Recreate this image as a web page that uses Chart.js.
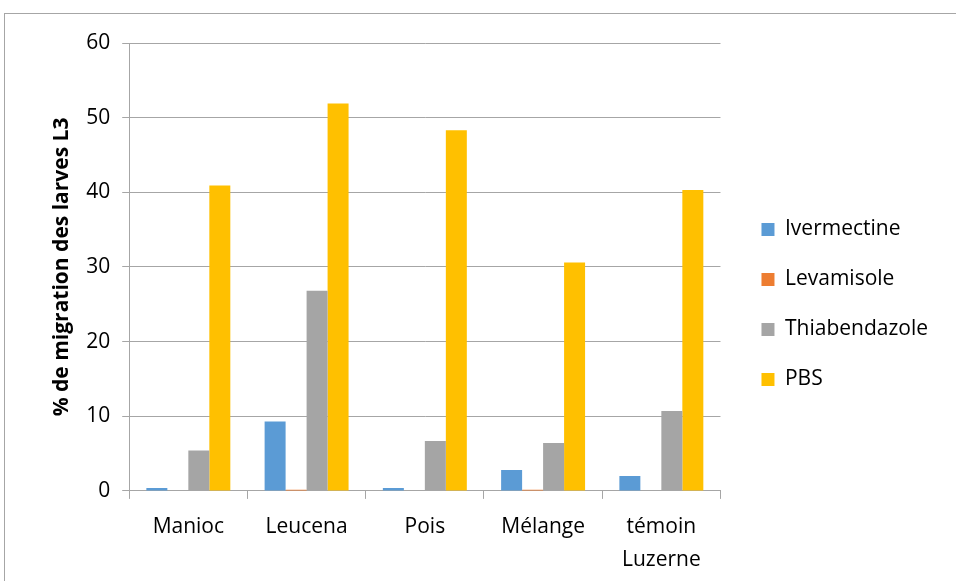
<!DOCTYPE html>
<html>
<head>
<meta charset="utf-8">
<script src="https://cdn.jsdelivr.net/npm/chart.js"></script>
<style>
  body { margin: 0; background: #fff; }
  #wrap { position: relative; width: 956px; height: 581px; }
  #frame { position: absolute; left: 4px; top: 13px; width: 960px; height: 600px;
           border-left: 1px solid #a6a6a6; border-top: 1px solid #a6a6a6; }
  canvas { position: absolute; left: 0; top: 0; }
</style>
</head>
<body>
<div id="wrap">
  <div id="frame"></div>
  <canvas id="myChart" width="956" height="581"></canvas>
</div>
<script>
// data
const categories = ['Manioc', 'Leucena', 'Pois', 'Mélange', ['témoin', 'Luzerne']];
const ivermectine = [0.4, 9.3, 0.4, 2.8, 2.0];
const levamisole = [0, 0.15, 0, 0.15, 0];
const thiabendazole = [5.4, 26.8, 6.7, 6.4, 10.7];
const pbs = [40.9, 51.9, 48.3, 30.6, 40.3];
const yTicks = [0, 10, 20, 30, 40, 50, 60];

const colors = ['#5B9BD5', '#ED7D31', '#A5A5A5', '#FFC000'];
const fontFam = '"Open Sans", sans-serif';

// nudge legend right and up, like the original
const legendShift = {
    id: 'legendShift',
    afterUpdate: function (chart) {
        chart.legend.left += 12;
        chart.legend.right += 12;
        chart.legend.top -= 11;
        chart.legend.bottom -= 11;
    }
};

const ctx = document.getElementById('myChart').getContext('2d');
const data = {
    labels: categories,
    datasets: [
        { label: 'Ivermectine', data: ivermectine, backgroundColor: colors[0] },
        { label: 'Levamisole', data: levamisole, backgroundColor: colors[1] },
        { label: 'Thiabendazole', data: thiabendazole, backgroundColor: colors[2] },
        { label: 'PBS', data: pbs, backgroundColor: colors[3] }
    ]
};
const config = {
    type: 'bar',
    data: data,
    plugins: [legendShift],
    options: {
        responsive: false,
        animation: false,
        layout: { padding: { left: 45, top: 43, right: 30, bottom: -7 } },
        datasets: {
            bar: { categoryPercentage: 0.71, barPercentage: 1.0 }
        },
        plugins: {
            tooltip: { enabled: false },
            legend: {
                position: 'right',
                align: 'center',
                labels: {
                    boxWidth: 13,
                    boxHeight: 13,
                    padding: 29,
                    color: '#000',
                    font: { family: fontFam, size: 21 }
                }
            }
        },
        scales: {
            x: {
                grid: {
                    offset: true,
                    drawOnChartArea: false,
                    drawTicks: true,
                    tickLength: 8,
                    color: '#a6a6a6'
                },
                border: { color: '#a6a6a6' },
                ticks: {
                    color: '#000',
                    font: { family: fontFam, size: 21, lineHeight: 1.55 },
                    padding: 12,
                    maxRotation: 0
                }
            },
            y: {
                min: 0,
                max: 60,
                afterBuildTicks: function (axis) {
                    axis.ticks = yTicks.map(function (v) { return { value: v }; });
                },
                grid: {
                    color: '#a6a6a6',
                    tickLength: 7
                },
                border: { color: '#a6a6a6' },
                ticks: {
                    color: '#000',
                    font: { family: fontFam, size: 21 },
                    padding: 12
                },
                title: {
                    display: true,
                    text: '% de migration des larves L3',
                    color: '#000',
                    font: { family: fontFam, size: 21, weight: 'bold' },
                    padding: { bottom: 0 }
                }
            }
        }
    }
};
const myChart = new Chart(ctx, config);
</script>
</body>
</html>
